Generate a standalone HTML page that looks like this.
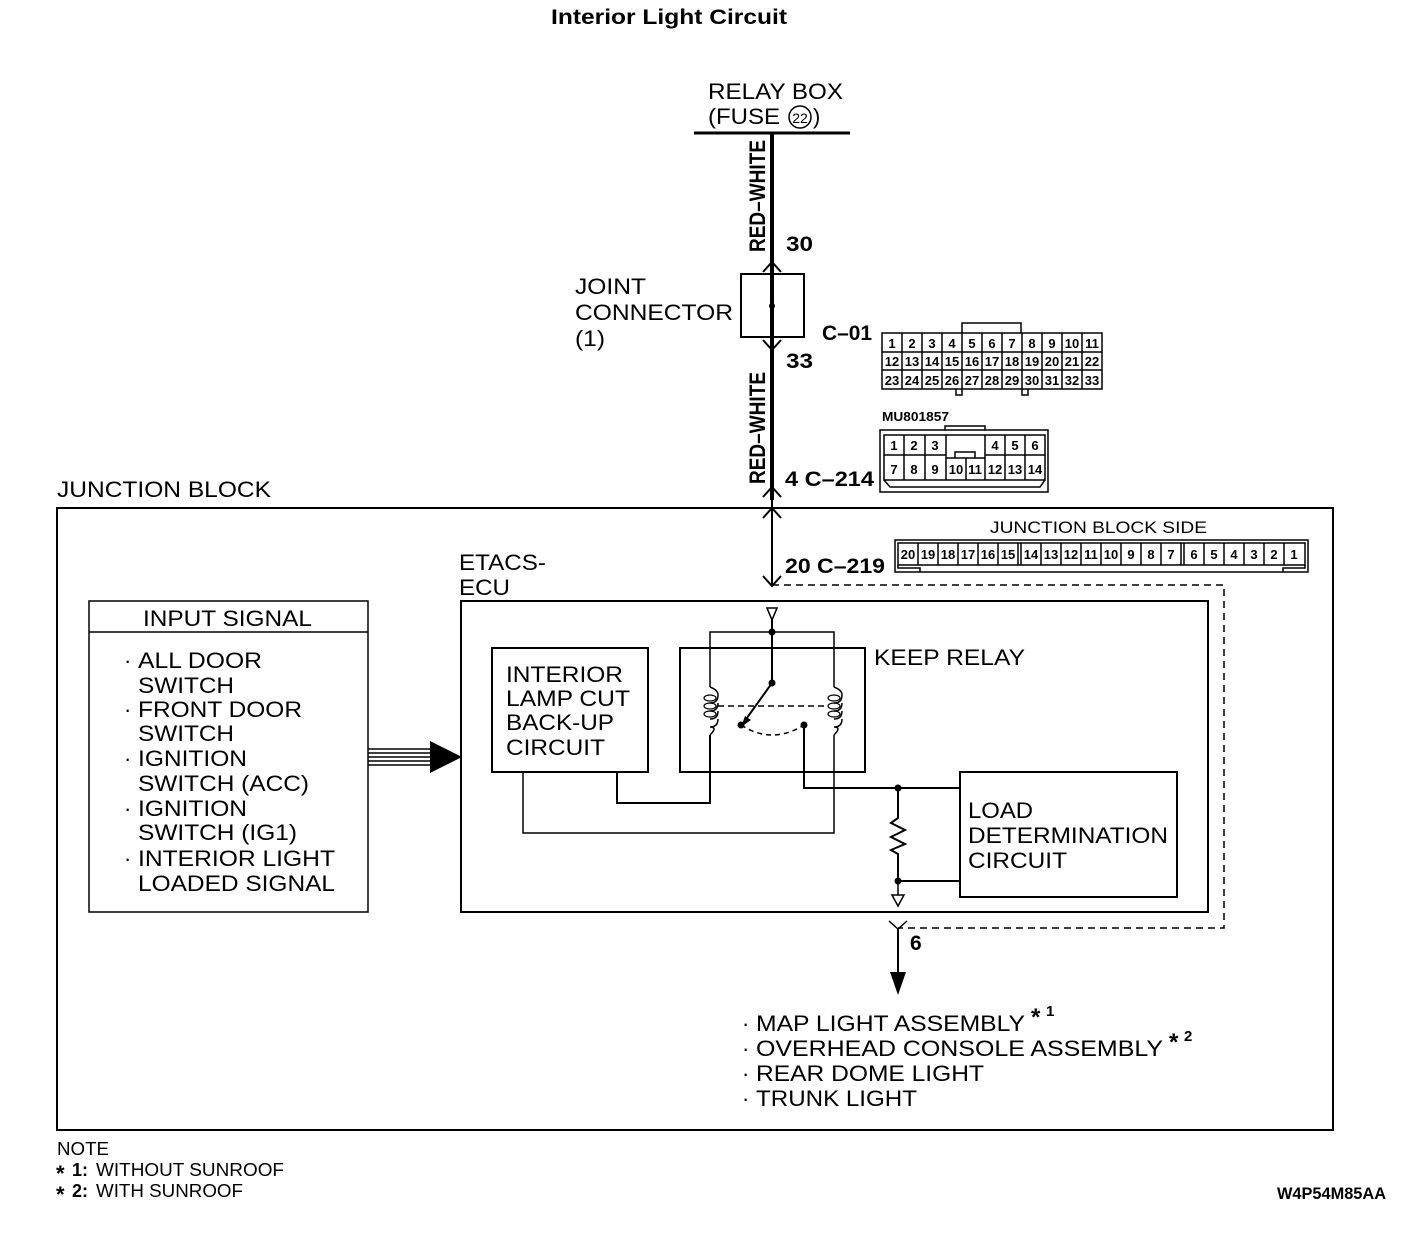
<!DOCTYPE html>
<html><head><meta charset="utf-8"><style>
html,body{margin:0;padding:0;background:#fff}
svg{display:block}
text{font-family:"Liberation Sans",sans-serif;fill:#000}
.t{font-size:22px}
.b{font-weight:bold}
.s{font-size:18px}
.n{font-size:13px;font-weight:bold}
</style></head><body>
<svg width="1408" height="1260" viewBox="0 0 1408 1260" xmlns="http://www.w3.org/2000/svg">
<text x="551" y="24" class="b" font-size="21" textLength="236" lengthAdjust="spacingAndGlyphs">Interior Light Circuit</text>
<text x="708" y="99" class="t" textLength="135" lengthAdjust="spacingAndGlyphs">RELAY BOX</text>
<text x="708" y="124" class="t" textLength="72" lengthAdjust="spacingAndGlyphs">(FUSE</text>
<circle cx="800" cy="117" r="11" fill="none" stroke="#000" stroke-width="1.5"/>
<text x="800" y="123" font-size="14" text-anchor="middle">22</text>
<text x="813" y="124" class="t">)</text>
<g stroke="#000" fill="none">
<line x1="694" y1="133" x2="850" y2="133" stroke-width="3"/>
<line x1="772" y1="133" x2="772" y2="500" stroke-width="4"/>
<line x1="772" y1="500" x2="772" y2="585" stroke-width="2"/>
<rect x="741" y="274" width="63" height="63" stroke-width="2"/>
<polyline points="763,272 772,262 781,272" stroke-width="2"/>
<polyline points="763,340 772,350 781,340" stroke-width="2"/>
<polyline points="763,497 772,487 781,497" stroke-width="2"/>
<polyline points="763,518 772,508 781,518" stroke-width="2"/>
<polyline points="763,576 772,586 781,576" stroke-width="2"/>
<rect x="57" y="508" width="1276" height="622" stroke-width="2"/>
<polyline points="772,585 1224,585 1224,928 898,928" stroke-width="1.5" stroke-dasharray="7,5"/>
<rect x="461" y="601" width="747" height="311" stroke-width="2"/>
<rect x="89" y="601" width="279" height="311" stroke-width="1.5"/>
<line x1="89" y1="632" x2="368" y2="632" stroke-width="1.5"/>
<rect x="492" y="648" width="156" height="124" stroke-width="2"/>
<rect x="680" y="648" width="185" height="124" stroke-width="2"/>
<rect x="960" y="772" width="217" height="125" stroke-width="2"/>
<polyline points="710,687 710,632 834,632 834,687" stroke-width="1.5"/>
<polyline points="710,735 710,803 617,803 617,772" stroke-width="2"/>
<polyline points="834,735 834,833 523,833 523,772" stroke-width="1.5"/>
<path d="M710,687 q8,3 8,8 q0,8 -8,8 M718,703 q0,8 -8,8 M718,711 q0,8 -8,8 M718,719 q0,8 -8,8 q8,0 0,8" stroke-width="1.5"/>
<path d="M834,687 q8,3 8,8 q0,8 -8,8 M842,703 q0,8 -8,8 M842,711 q0,8 -8,8 M842,719 q0,8 -8,8 q8,0 0,8" stroke-width="1.5"/>
<ellipse cx="710" cy="698" rx="6" ry="3" stroke-width="1.2"/>
<ellipse cx="710" cy="706" rx="6" ry="3" stroke-width="1.2"/>
<ellipse cx="710" cy="714" rx="6" ry="3" stroke-width="1.2"/>
<ellipse cx="834" cy="698" rx="6" ry="3" stroke-width="1.2"/>
<ellipse cx="834" cy="706" rx="6" ry="3" stroke-width="1.2"/>
<ellipse cx="834" cy="714" rx="6" ry="3" stroke-width="1.2"/>
<line x1="718" y1="706" x2="826" y2="706" stroke-width="1.5" stroke-dasharray="6,4"/>
<path d="M741,725 Q772,745 804,725" stroke-width="1.5" stroke-dasharray="5,4"/>
<polygon points="767,608 777,608 772,620" stroke-width="1.5" fill="#fff"/>
<line x1="772" y1="620" x2="772" y2="683" stroke-width="2"/>
<line x1="772" y1="683" x2="744" y2="722" stroke-width="2"/>
<polyline points="804,725 804,788 960,788" stroke-width="2"/>
<polyline points="898,788 898,818 891,823 905,830 891,837 905,844 891,850 898,854 898,881 960,881" stroke-width="2"/>
<line x1="898" y1="881" x2="898" y2="895" stroke-width="1.5"/>
<polygon points="892,895 904,895 898,906" stroke-width="1.5" fill="#fff"/>
<polyline points="889,921 898,929 907,921" stroke-width="1.5"/>
<line x1="898" y1="929" x2="898" y2="975" stroke-width="2"/>
<line x1="368" y1="749" x2="432" y2="749" stroke-width="1.5"/>
<line x1="368" y1="753" x2="432" y2="753" stroke-width="1.5"/>
<line x1="368" y1="757" x2="432" y2="757" stroke-width="1.5"/>
<line x1="368" y1="761" x2="432" y2="761" stroke-width="1.5"/>
<line x1="368" y1="765" x2="432" y2="765" stroke-width="1.5"/>
</g>
<polygon points="430,741 462,757 430,773" fill="#000"/>
<polygon points="890,972 906,972 898,995" fill="#000"/>
<circle cx="772" cy="306" r="3" fill="#000"/>
<circle cx="772" cy="632" r="3.5" fill="#000"/>
<circle cx="772" cy="683" r="3.5" fill="#000"/>
<circle cx="741" cy="725" r="3.5" fill="#000"/>
<circle cx="804" cy="725" r="3.5" fill="#000"/>
<circle cx="898" cy="788" r="3.5" fill="#000"/>
<circle cx="898" cy="881" r="3.5" fill="#000"/>
<polygon points="741,727 745,716 751,720" fill="#000"/>
<text transform="translate(765,252) rotate(-90)" class="b" font-size="22" textLength="112" lengthAdjust="spacingAndGlyphs">RED–WHITE</text>
<text transform="translate(765,484) rotate(-90)" class="b" font-size="22" textLength="112" lengthAdjust="spacingAndGlyphs">RED–WHITE</text>
<text x="786" y="251" class="b" font-size="21" textLength="27" lengthAdjust="spacingAndGlyphs">30</text>
<text x="786" y="368" class="b" font-size="21" textLength="27" lengthAdjust="spacingAndGlyphs">33</text>
<text x="822" y="340" class="b" font-size="21" textLength="50" lengthAdjust="spacingAndGlyphs">C–01</text>
<text x="785" y="486" class="b" font-size="21" textLength="89" lengthAdjust="spacingAndGlyphs">4  C–214</text>
<text x="785" y="573" class="b" font-size="21" textLength="100" lengthAdjust="spacingAndGlyphs">20  C–219</text>
<text x="910" y="950" class="b" font-size="21">6</text>
<g class="t" lengthAdjust="spacingAndGlyphs">
<text x="575" y="294" textLength="71" lengthAdjust="spacingAndGlyphs">JOINT</text>
<text x="575" y="320" textLength="158" lengthAdjust="spacingAndGlyphs">CONNECTOR</text>
<text x="575" y="346" textLength="30" lengthAdjust="spacingAndGlyphs">(1)</text>
<text x="57" y="497" textLength="214" lengthAdjust="spacingAndGlyphs">JUNCTION BLOCK</text>
<text x="459" y="570" textLength="87" lengthAdjust="spacingAndGlyphs">ETACS-</text>
<text x="459" y="595" textLength="51" lengthAdjust="spacingAndGlyphs">ECU</text>
<text x="143" y="626" textLength="169" lengthAdjust="spacingAndGlyphs">INPUT SIGNAL</text>
<text x="124" y="668">·</text><text x="138" y="668" textLength="124" lengthAdjust="spacingAndGlyphs">ALL DOOR</text>
<text x="138" y="693" textLength="96" lengthAdjust="spacingAndGlyphs">SWITCH</text>
<text x="124" y="717">·</text><text x="138" y="717" textLength="164" lengthAdjust="spacingAndGlyphs">FRONT DOOR</text>
<text x="138" y="741" textLength="96" lengthAdjust="spacingAndGlyphs">SWITCH</text>
<text x="124" y="766">·</text><text x="138" y="766" textLength="109" lengthAdjust="spacingAndGlyphs">IGNITION</text>
<text x="138" y="791" textLength="171" lengthAdjust="spacingAndGlyphs">SWITCH (ACC)</text>
<text x="124" y="816">·</text><text x="138" y="816" textLength="109" lengthAdjust="spacingAndGlyphs">IGNITION</text>
<text x="138" y="840" textLength="159" lengthAdjust="spacingAndGlyphs">SWITCH (IG1)</text>
<text x="124" y="866">·</text><text x="138" y="866" textLength="197" lengthAdjust="spacingAndGlyphs">INTERIOR LIGHT</text>
<text x="138" y="891" textLength="197" lengthAdjust="spacingAndGlyphs">LOADED SIGNAL</text>
<text x="506" y="682" textLength="117" lengthAdjust="spacingAndGlyphs">INTERIOR</text>
<text x="506" y="706" textLength="124" lengthAdjust="spacingAndGlyphs">LAMP CUT</text>
<text x="506" y="730" textLength="108" lengthAdjust="spacingAndGlyphs">BACK-UP</text>
<text x="506" y="755" textLength="99" lengthAdjust="spacingAndGlyphs">CIRCUIT</text>
<text x="874" y="665" textLength="151" lengthAdjust="spacingAndGlyphs">KEEP RELAY</text>
<text x="968" y="818" textLength="65" lengthAdjust="spacingAndGlyphs">LOAD</text>
<text x="968" y="843" textLength="200" lengthAdjust="spacingAndGlyphs">DETERMINATION</text>
<text x="968" y="868" textLength="99" lengthAdjust="spacingAndGlyphs">CIRCUIT</text>
<text x="742" y="1031">·</text><text x="756" y="1031" textLength="269" lengthAdjust="spacingAndGlyphs">MAP LIGHT ASSEMBLY</text>
<text x="742" y="1056">·</text><text x="756" y="1056" textLength="407" lengthAdjust="spacingAndGlyphs">OVERHEAD CONSOLE  ASSEMBLY</text>
<text x="742" y="1081">·</text><text x="756" y="1081" textLength="228" lengthAdjust="spacingAndGlyphs">REAR DOME LIGHT</text>
<text x="742" y="1106">·</text><text x="756" y="1106" textLength="161" lengthAdjust="spacingAndGlyphs">TRUNK LIGHT</text>
</g>
<text x="1031" y="1025" class="b" font-size="24">*</text><text x="1046" y="1016" class="b" font-size="15">1</text>
<text x="1169" y="1050" class="b" font-size="24">*</text><text x="1184" y="1041" class="b" font-size="15">2</text>
<text x="57" y="1155" class="s" textLength="52" lengthAdjust="spacingAndGlyphs">NOTE</text>
<text x="56" y="1181" class="b" font-size="22">*</text><text x="72" y="1176" class="s b">1:</text><text x="96" y="1176" class="s" textLength="188" lengthAdjust="spacingAndGlyphs">WITHOUT SUNROOF</text>
<text x="56" y="1202" class="b" font-size="22">*</text><text x="72" y="1197" class="s b">2:</text><text x="96" y="1197" class="s" textLength="147" lengthAdjust="spacingAndGlyphs">WITH SUNROOF</text>
<text x="1277" y="1199" class="b" font-size="17" textLength="109" lengthAdjust="spacingAndGlyphs">W4P54M85AA</text>
<text x="990" y="533" font-size="17" textLength="217" lengthAdjust="spacingAndGlyphs">JUNCTION BLOCK SIDE</text>
<text x="882" y="421" class="n" textLength="67" lengthAdjust="spacingAndGlyphs">MU801857</text>
<g stroke="#000" fill="none" stroke-width="1.5">
<polyline points="962,333 962,323 1021,323 1021,333"/>
<rect x="882" y="333" width="220" height="56"/>
<line x1="882" y1="352" x2="1102" y2="352"/>
<line x1="882" y1="370" x2="1102" y2="370"/>
<polyline points="956,389 956,395 962,395 962,389"/>
<polyline points="1022,389 1022,395 1028,395 1028,389"/>
</g>
<g stroke="#000" stroke-width="1.5">
<line x1="902" y1="333" x2="902" y2="389"/><line x1="922" y1="333" x2="922" y2="389"/><line x1="942" y1="333" x2="942" y2="389"/><line x1="962" y1="333" x2="962" y2="389"/><line x1="982" y1="333" x2="982" y2="389"/><line x1="1002" y1="333" x2="1002" y2="389"/><line x1="1022" y1="333" x2="1022" y2="389"/><line x1="1042" y1="333" x2="1042" y2="389"/><line x1="1062" y1="333" x2="1062" y2="389"/><line x1="1082" y1="333" x2="1082" y2="389"/>
</g>
<g class="n" text-anchor="middle">
<text x="892" y="348">1</text><text x="912" y="348">2</text><text x="932" y="348">3</text><text x="952" y="348">4</text><text x="972" y="348">5</text><text x="992" y="348">6</text><text x="1012" y="348">7</text><text x="1032" y="348">8</text><text x="1052" y="348">9</text><text x="1072" y="348">10</text><text x="1092" y="348">11</text>
<text x="892" y="366">12</text><text x="912" y="366">13</text><text x="932" y="366">14</text><text x="952" y="366">15</text><text x="972" y="366">16</text><text x="992" y="366">17</text><text x="1012" y="366">18</text><text x="1032" y="366">19</text><text x="1052" y="366">20</text><text x="1072" y="366">21</text><text x="1092" y="366">22</text>
<text x="892" y="385">23</text><text x="912" y="385">24</text><text x="932" y="385">25</text><text x="952" y="385">26</text><text x="972" y="385">27</text><text x="992" y="385">28</text><text x="1012" y="385">29</text><text x="1032" y="385">30</text><text x="1052" y="385">31</text><text x="1072" y="385">32</text><text x="1092" y="385">33</text>
</g>
<g stroke="#000" fill="none" stroke-width="1.5">
<polyline points="945,430 945,426 985,426 985,430"/>
<rect x="880" y="430" width="168" height="62"/>
<rect x="884" y="435" width="161" height="45"/>
<line x1="884" y1="455" x2="946" y2="455"/><line x1="985" y1="455" x2="1045" y2="455"/>
<line x1="946" y1="458" x2="985" y2="458"/>
<line x1="904" y1="435" x2="904" y2="480"/><line x1="925" y1="435" x2="925" y2="480"/><line x1="946" y1="435" x2="946" y2="480"/><line x1="985" y1="435" x2="985" y2="480"/><line x1="1005" y1="435" x2="1005" y2="480"/><line x1="1025" y1="435" x2="1025" y2="480"/>
<line x1="966" y1="458" x2="966" y2="480"/>
<polyline points="955,458 955,452 975,452 975,458"/>
<polyline points="884,480 890,487 1040,487 1045,480"/>
</g>
<g class="n" text-anchor="middle">
<text x="894" y="450">1</text><text x="914" y="450">2</text><text x="935" y="450">3</text><text x="995" y="450">4</text><text x="1015" y="450">5</text><text x="1035" y="450">6</text>
<text x="894" y="474">7</text><text x="914" y="474">8</text><text x="935" y="474">9</text><text x="956" y="474">10</text><text x="975" y="474">11</text><text x="995" y="474">12</text><text x="1015" y="474">13</text><text x="1035" y="474">14</text>
</g>
<g stroke="#000" fill="none" stroke-width="1.5">
<rect x="895" y="540" width="413" height="32"/>
<rect x="898" y="543" width="407" height="22"/>
<polyline points="898,565 898,568 920,568 920,572"/>
<polyline points="1305,565 1305,568 1283,568 1283,572"/>
</g>
<g stroke="#000" stroke-width="1.5">
<line x1="918" y1="543" x2="918" y2="565"/><line x1="938" y1="543" x2="938" y2="565"/><line x1="958" y1="543" x2="958" y2="565"/><line x1="978" y1="543" x2="978" y2="565"/><line x1="998" y1="543" x2="998" y2="565"/><line x1="1018" y1="543" x2="1018" y2="565"/><line x1="1021" y1="543" x2="1021" y2="565"/><line x1="1041" y1="543" x2="1041" y2="565"/><line x1="1061" y1="543" x2="1061" y2="565"/><line x1="1081" y1="543" x2="1081" y2="565"/><line x1="1101" y1="543" x2="1101" y2="565"/><line x1="1121" y1="543" x2="1121" y2="565"/><line x1="1141" y1="543" x2="1141" y2="565"/><line x1="1161" y1="543" x2="1161" y2="565"/><line x1="1181" y1="543" x2="1181" y2="565"/><line x1="1184" y1="543" x2="1184" y2="565"/><line x1="1204" y1="543" x2="1204" y2="565"/><line x1="1224" y1="543" x2="1224" y2="565"/><line x1="1244" y1="543" x2="1244" y2="565"/><line x1="1264" y1="543" x2="1264" y2="565"/><line x1="1284" y1="543" x2="1284" y2="565"/>
</g>
<g class="n" text-anchor="middle">
<text x="908" y="559">20</text><text x="928" y="559">19</text><text x="948" y="559">18</text><text x="968" y="559">17</text><text x="988" y="559">16</text><text x="1008" y="559">15</text><text x="1031" y="559">14</text><text x="1051" y="559">13</text><text x="1071" y="559">12</text><text x="1091" y="559">11</text><text x="1111" y="559">10</text><text x="1131" y="559">9</text><text x="1151" y="559">8</text><text x="1171" y="559">7</text><text x="1194" y="559">6</text><text x="1214" y="559">5</text><text x="1234" y="559">4</text><text x="1254" y="559">3</text><text x="1274" y="559">2</text><text x="1294" y="559">1</text>
</g>
</svg>
</body></html>
